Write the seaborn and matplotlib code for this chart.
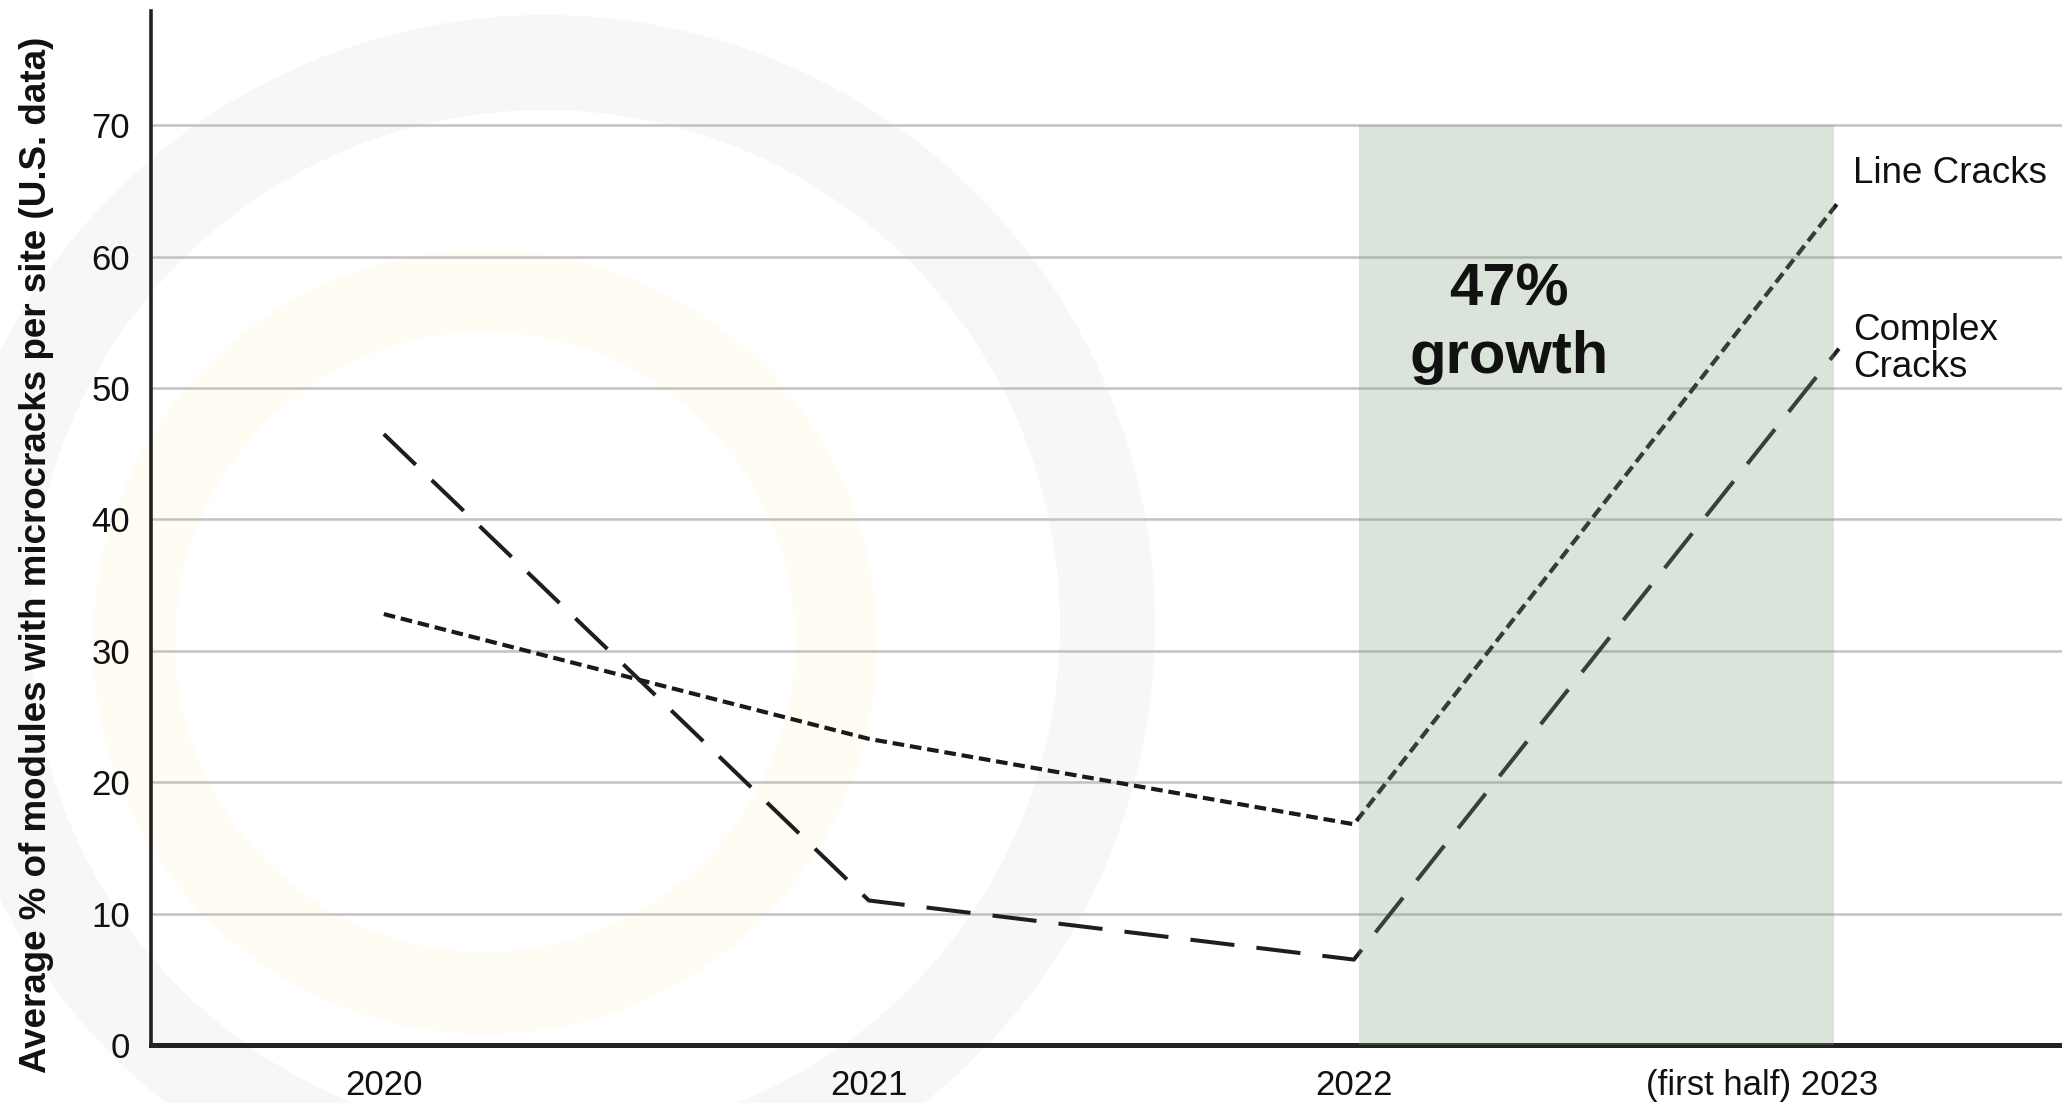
import numpy as np
import pandas as pd
import seaborn as sns
import matplotlib.pyplot as plt
from matplotlib.patches import Wedge
from matplotlib.transforms import ScaledTranslation

# Data
years = [2020, 2021, 2022, 2023]
year_labels = ["2020", "2021", "2022", "(first half) 2023"]
line_cracks = [32.8, 23.3, 16.8, 64.2]
complex_cracks = [46.5, 11.0, 6.5, 53.0]

sns.set_theme(style="white")
plt.rcParams['font.family'] = ['Liberation Sans', 'DejaVu Sans']

fig = plt.figure(figsize=(20.62, 11.03), dpi=100)
fig.patch.set_facecolor('white')

# faint watermark rings in the background
bg = fig.add_axes([0, 0, 1, 1], zorder=-5)
bg.set_xlim(0, 2062)
bg.set_ylim(1103, 0)
bg.axis('off')
bg.add_patch(Wedge((545, 625), 610, 0, 360, width=95, facecolor='#f6f7f9', edgecolor='none'))
bg.add_patch(Wedge((485, 642), 392, 0, 360, width=82, facecolor='#fffcf4', edgecolor='none'))

ax = fig.add_axes([151 / 2062, 58 / 1103, 1 - 151 / 2062, 1034 / 1103])
ax.set_facecolor('none')

ax.axvspan(2022.01, 2022.99, ymin=0, ymax=70 / 78.7, facecolor='#7a9e7a', alpha=0.28,
           edgecolor='none', zorder=3)

sns.lineplot(x=years, y=line_cracks, ax=ax, color='#1a1a1a', lw=3.0,
             linestyle=(0, (2.8, 1.4)), zorder=2)
sns.lineplot(x=years, y=complex_cracks, ax=ax, color='#1e1e1e', lw=2.9,
             linestyle=(0, (11, 5.5)), zorder=2)

ax.set_xlim(2019.52, 2023.46)
ax.set_ylim(0, 78.7)
ax.set_yticks(range(0, 71, 10))
ax.set_xticks(years)
ax.set_xticklabels(year_labels)
ax.yaxis.grid(True, color='#c2c2c2', lw=1.8, zorder=0)
ax.xaxis.grid(False)
ax.set_axisbelow(True)

for s in ['top', 'right']:
    ax.spines[s].set_visible(False)
ax.spines['left'].set_color('#222222')
ax.spines['left'].set_linewidth(2.6)
ax.spines['bottom'].set_color('#222222')
ax.spines['bottom'].set_linewidth(3.6)

ax.tick_params(axis='both', length=0, labelsize=25, colors='#111111')
ax.tick_params(axis='y', pad=15)
ax.tick_params(axis='x', pad=17)

last = ax.get_xticklabels()[-1]
last.set_horizontalalignment('right')
last.set_transform(last.get_transform() + ScaledTranslation(0.39, 0, fig.dpi_scale_trans))

ax.set_ylabel("Average % of modules with microcracks per site (U.S. data)",
              fontsize=26.5, fontweight='bold', color='#111111')
ax.yaxis.set_label_coords(-0.051, 0.474)

ax.text(2022.32, 54.9, "47%\ngrowth", ha='center', va='center', fontsize=43,
        fontweight='bold', color='#111111', linespacing=1.3, zorder=5)
ax.text(2023.03, 66.3, "Line Cracks", ha='left', va='center', fontsize=26.5, color='#111111')
ax.text(2023.03, 53.0, "Complex\nCracks", ha='left', va='center', fontsize=26.5,
        color='#111111', linespacing=1.07)

plt.savefig('out.png', dpi=100, facecolor='white')
